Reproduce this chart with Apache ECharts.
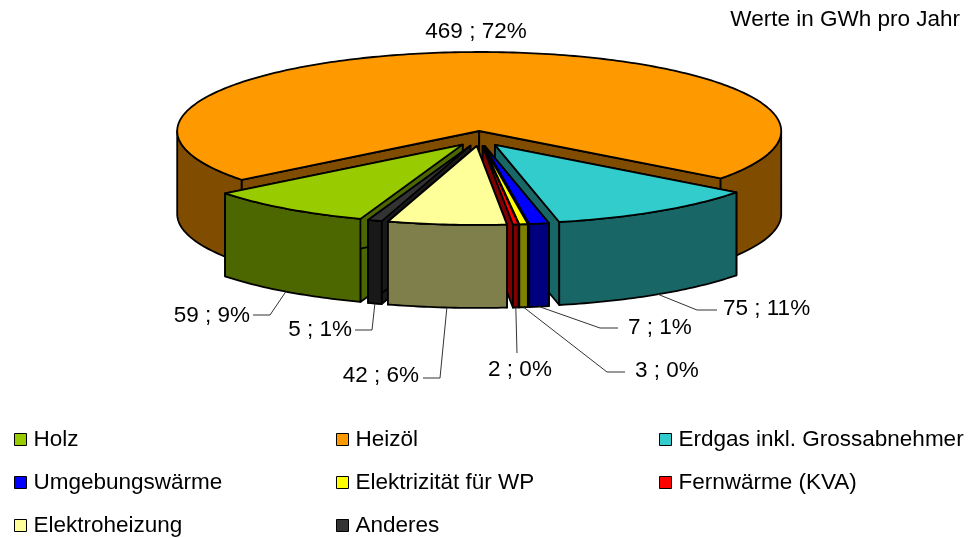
<!DOCTYPE html>
<html>
<head>
<meta charset="utf-8">
<style>
  html, body { margin: 0; padding: 0; background: #fff; }
  #chart { width: 978px; height: 538px; }
</style>
<script src="https://cdn.jsdelivr.net/npm/echarts@6/dist/echarts.min.js"></script>
</head>
<body>
<div id="chart"></div>
<script>
// data
const names = ['Holz', 'Heizöl', 'Erdgas inkl. Grossabnehmer', 'Umgebungswärme', 'Elektrizität für WP', 'Fernwärme (KVA)', 'Elektroheizung', 'Anderes']
const values = [59, 469, 75, 7, 3, 2, 42, 5]
const percents = [9, 72, 11, 1, 0, 0, 6, 1]
const colors = ['#99CC00', '#FF9900', '#33CCCC', '#0000FF', '#FFFF00', '#FF0000', '#FFFF99', '#333333']

// legend columns
const legendCols = [
  ['Holz', 'Umgebungswärme', 'Elektroheizung'],
  ['Heizöl', 'Elektrizität für WP', 'Anderes'],
  ['Erdgas inkl. Grossabnehmer', 'Fernwärme (KVA)']
]

// pie geometry
const cx = 479.5
const cy = 138.5
const rx = 302
const ry = 79
const depth = 83
const explode = 0.095
const startAngle = 199.8

// leader line elbow + end, and where the text sits (null = no leader)
const labelPos = [
  { line: [[270, 315], [253, 315]], x: 250, y: 316, align: 'right' },
  { line: null, x: 476, y: 32, align: 'center' },
  { line: [[697, 310], [717, 310]], x: 723, y: 309, align: 'left' },
  { line: [[600, 328], [618, 328]], x: 628, y: 328, align: 'left' },
  { line: [[607, 372], [625, 372]], x: 635, y: 371, align: 'left' },
  { line: [[517, 353]], x: 520, y: 370, align: 'center' },
  { line: [[440, 378], [423, 378]], x: 419, y: 376, align: 'right' },
  { line: [[372, 330], [355, 330]], x: 352, y: 330, align: 'right' }
]

const total = values.reduce((a, b) => a + b, 0)

// cumulative angles, clockwise from the top
let acc = startAngle
const slices = values.map((v, i) => {
  const a = acc
  acc += (v / total) * 360
  return { index: i, a, b: acc, mid: (a + acc) / 2 }
})

function halve(hex) {
  const n = parseInt(hex.slice(1), 16)
  const r = (n >> 16) >> 1
  const g = ((n >> 8) & 255) >> 1
  const b = (n & 255) >> 1
  return `rgb(${r},${g},${b})`
}

function rimPoint(apex, deg, drop) {
  const t = (deg * Math.PI) / 180
  return [apex[0] + rx * Math.sin(t), apex[1] - ry * Math.cos(t) + drop]
}

function arcPoints(apex, a, b, drop) {
  const pts = []
  const n = Math.max(2, Math.ceil(b - a))
  for (let k = 0; k <= n; k++) {
    pts.push(rimPoint(apex, a + ((b - a) * k) / n, drop))
  }
  return pts
}

function poly(points, fill) {
  return {
    type: 'polygon',
    shape: { points },
    style: { fill, stroke: '#000', lineWidth: 1.8, lineJoin: 'round' }
  }
}

function renderSlice(slice) {
  const { index, a, b, mid } = slice
  const top = colors[index]
  const side = halve(top)
  const t = (mid * Math.PI) / 180
  const apex = [cx + explode * rx * Math.sin(t), cy - explode * ry * Math.cos(t)]
  const low = [apex[0], apex[1] + depth]
  const children = []

  // cut faces
  ;[a, b].forEach((deg) => {
    children.push(poly([apex, rimPoint(apex, deg, 0), rimPoint(apex, deg, depth), low], side))
  })

  // outer wall, only the part facing the viewer
  ;[[90, 270], [450, 630]].forEach(([w0, w1]) => {
    const from = Math.max(a, w0)
    const to = Math.min(b, w1)
    if (from < to) {
      children.push(poly(arcPoints(apex, from, to, 0).concat(arcPoints(apex, from, to, depth).reverse()), side))
    }
  })

  children.push(poly([apex].concat(arcPoints(apex, a, b, 0)), top))

  // label and leader
  const pos = labelPos[index]
  if (pos.line) {
    children.push({
      type: 'polyline',
      shape: { points: [rimPoint(apex, mid, depth)].concat(pos.line) },
      style: { fill: 'none', stroke: '#333', lineWidth: 1 }
    })
  }
  children.push({
    type: 'text',
    style: {
      text: `${values[index]} ; ${percents[index]}%`,
      x: pos.x,
      y: pos.y,
      align: pos.align,
      verticalAlign: 'middle',
      fill: '#000',
      font: '22.5px "Liberation Sans"'
    }
  })
  return { type: 'group', children }
}

// back to front: the slice holding the front point goes last
function frontDistance(s) {
  if (s.a <= 180 && s.b >= 180) return 0
  return Math.abs((s.mid % 360) - 180)
}
const drawOrder = slices.slice().sort((p, q) => frontDistance(q) - frontDistance(p))

const series = drawOrder.map((slice) => ({
  name: names[slice.index],
  type: 'custom',
  coordinateSystem: 'none',
  silent: true,
  itemStyle: { color: colors[slice.index] },
  data: [values[slice.index]],
  renderItem: () => renderSlice(slice)
}))

const legendLeft = [14, 336, 659]
const legend = legendCols.map((col, i) => ({
  data: col,
  orient: 'vertical',
  left: legendLeft[i],
  top: 428,
  height: 135,
  padding: 0,
  itemGap: 20,
  itemWidth: 12,
  itemHeight: 12,
  icon: 'rect',
  selectedMode: false,
  itemStyle: { borderColor: '#000', borderWidth: 1 },
  textStyle: { color: '#000', fontFamily: 'Liberation Sans', fontSize: 22.5, padding: [0, 0, 0, 2] }
}))

const chart = echarts.init(document.getElementById('chart'))
chart.setOption({
  animation: false,
  backgroundColor: '#fff',
  title: {
    text: 'Werte in GWh pro Jahr',
    right: 18,
    top: 8,
    padding: 0,
    textStyle: { color: '#000', fontFamily: 'Liberation Sans', fontSize: 22.5, fontWeight: 'normal' }
  },
  legend,
  series
})
</script>
</body>
</html>
